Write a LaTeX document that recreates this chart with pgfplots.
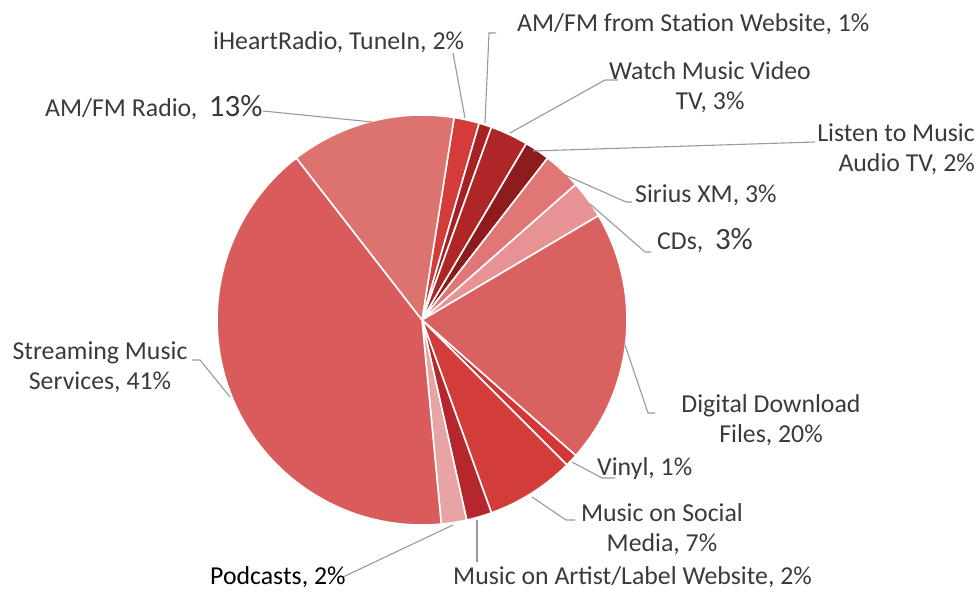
\documentclass[border=0pt]{standalone}
\usepackage{pgfplots}
\usepackage{pgfplotstable}
\pgfplotsset{compat=1.18}
\usepackage{fontspec}
\setmainfont{Carlito}

\definecolor{txt}{HTML}{3A3A3A}
\definecolor{lead}{HTML}{999999}
\definecolor{cIheart}{HTML}{D43B3B}
\definecolor{cStation}{HTML}{A52124}
\definecolor{cWatch}{HTML}{AE2626}
\definecolor{cListen}{HTML}{8E1B1E}
\definecolor{cSirius}{HTML}{E07675}
\definecolor{cCD}{HTML}{E79393}
\definecolor{cDigital}{HTML}{D9615F}
\definecolor{cVinyl}{HTML}{D33636}
\definecolor{cSocial}{HTML}{D23D3A}
\definecolor{cArtist}{HTML}{B5262D}
\definecolor{cPodcast}{HTML}{E8A3A5}
\definecolor{cStream}{HTML}{D95B5B}
\definecolor{cRadio}{HTML}{DC736F}

% shares in percent, clockwise from the first slice
\pgfplotstableread[col sep=comma]{
val,col
2,cIheart
1,cStation
3,cWatch
2,cListen
3,cSirius
3,cCD
20,cDigital
1,cVinyl
7,cSocial
2,cArtist
2,cPodcast
41,cStream
13,cRadio
}\pietable

\begin{document}
\begin{tikzpicture}
\begin{axis}[
    width=980pt, height=593pt,
    scale only axis,
    xmin=0, xmax=980, ymin=0, ymax=593,
    hide axis, clip=false,
  ]
  \coordinate (SW) at (axis cs:0,0);
  \coordinate (NE) at (axis cs:980,593);

  % slices
  \pgfplotstablegetrowsof{\pietable}
  \pgfmathtruncatemacro\N{\pgfplotsretval-1}
  \def\cum{0}
  \pgfplotsforeachungrouped \i in {0,...,\N}{%
    \pgfplotstablegetelem{\i}{val}\of\pietable \let\v\pgfplotsretval
    \pgfplotstablegetelem{\i}{col}\of\pietable \let\c\pgfplotsretval
    \pgfmathsetmacro\a{81-3.6*\cum}%
    \pgfmathsetmacro\b{81-3.6*(\cum+\v)}%
    \edef\tmp{\noexpand\fill[\c, draw=white, line width=1.6pt, line join=round]
      (axis cs:422,273) -- ++(\a:205pt) arc[start angle=\a, end angle=\b, radius=205pt] -- cycle;}%
    \tmp
    \pgfmathsetmacro\cum{\cum+\v}%
  }

  % leader lines
  \begin{scope}[lead, line width=1.1pt]
    \draw (axis cs:263,482) -- (axis cs:372,471);
    \draw (axis cs:453,540) -- (axis cs:465,475);
    \draw (axis cs:496,560) -- (axis cs:489,560) -- (axis cs:485,470);
    \draw (axis cs:618,513) -- (axis cs:605,513) -- (axis cs:510,460);
    \draw (axis cs:815,451) -- (axis cs:533,442);
    \draw (axis cs:632,391) -- (axis cs:626,391) -- (axis cs:565,418);
    \draw (axis cs:651,341) -- (axis cs:645,341) -- (axis cs:590,389);
    \draw (axis cs:655,180) -- (axis cs:648,180) -- (axis cs:625,248);
    \draw (axis cs:615,115) -- (axis cs:602,115) -- (axis cs:572,131);
    \draw (axis cs:575,73) -- (axis cs:566,73) -- (axis cs:532,96);
    \draw (axis cs:477,31) -- (axis cs:477,73);
    \draw (axis cs:343,16) -- (axis cs:453,68);
    \draw (axis cs:192,233) -- (axis cs:200,233) -- (axis cs:230,196);
  \end{scope}

  % labels (base of a two-line label is its last line)
  \begin{scope}[txt, font=\fontsize{25.8}{30}\selectfont, inner sep=0pt]
    \node[anchor=base west] at (axis cs:45,476) {AM/FM Radio,~~{\fontsize{31}{30}\selectfont 13\%}};
    \node[anchor=base west] at (axis cs:213,543) {iHeartRadio, TuneIn, 2\%};
    \node[anchor=base west] at (axis cs:517,561) {AM/FM from Station Website, 1\%};
    \node[anchor=base, align=center] at (axis cs:710,483) {Watch Music Video\\TV, 3\%};
    \node[anchor=base east, align=right] at (axis cs:975,421) {Listen to Music\\Audio TV, 2\%};
    \node[anchor=base west] at (axis cs:635,390) {Sirius XM, 3\%};
    \node[anchor=base west] at (axis cs:657,343) {CDs,~~{\fontsize{31}{30}\selectfont 3\%}};
    \node[anchor=base, align=center] at (axis cs:771,150) {Digital Download\\Files, 20\%};
    \node[anchor=base west] at (axis cs:597,117) {Vinyl, 1\%};
    \node[anchor=base, align=center] at (axis cs:662,41) {Music on Social\\Media, 7\%};
    \node[anchor=base west] at (axis cs:453,8) {Music on Artist/Label Website, 2\%};
    \node[anchor=base west, text=black] at (axis cs:210,8) {Podcasts, 2\%};
    \node[anchor=base, align=center] at (axis cs:100,203) {Streaming Music\\Services, 41\%};
  \end{scope}
\end{axis}
\pgfresetboundingbox
\path[use as bounding box] (SW) rectangle (NE);
\end{tikzpicture}
\end{document}
